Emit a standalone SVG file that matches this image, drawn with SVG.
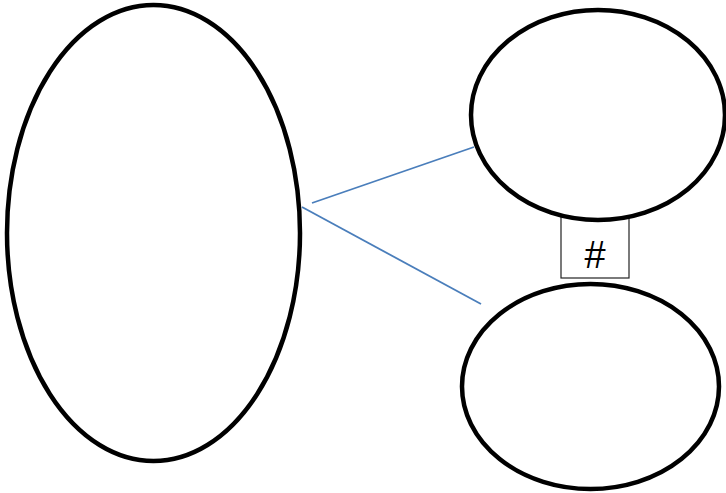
<svg xmlns="http://www.w3.org/2000/svg" width="726" height="493" viewBox="0 0 726 493">
<style>
.node{fill:#fff;stroke:#000;stroke-width:4.5}
.conn{stroke:#4a7ebb;stroke-width:1.8;fill:none}
.box{fill:#fff;stroke:#222;stroke-width:1.2}
.lbl{font-family:"Liberation Sans",Arial,sans-serif;font-size:38px;fill:#000;text-anchor:middle}
</style>
<rect width="726" height="493" fill="#fff"/>
<g id="label-box">
<rect class="box" x="561" y="214" width="68" height="64"/>
<text class="lbl" x="595" y="268">#</text>
</g>
<g id="connectors">
<line class="conn" x1="312" y1="203" x2="474" y2="147"/>
<line class="conn" x1="302" y1="207" x2="481" y2="304"/>
</g>
<g id="node-left"><ellipse class="node" cx="153.5" cy="233" rx="146.5" ry="228"/></g>
<g id="node-top-right"><ellipse class="node" cx="598" cy="115" rx="127" ry="105"/></g>
<g id="node-bottom-right"><ellipse class="node" cx="590.5" cy="386.5" rx="128.5" ry="102.5"/></g>
</svg>
